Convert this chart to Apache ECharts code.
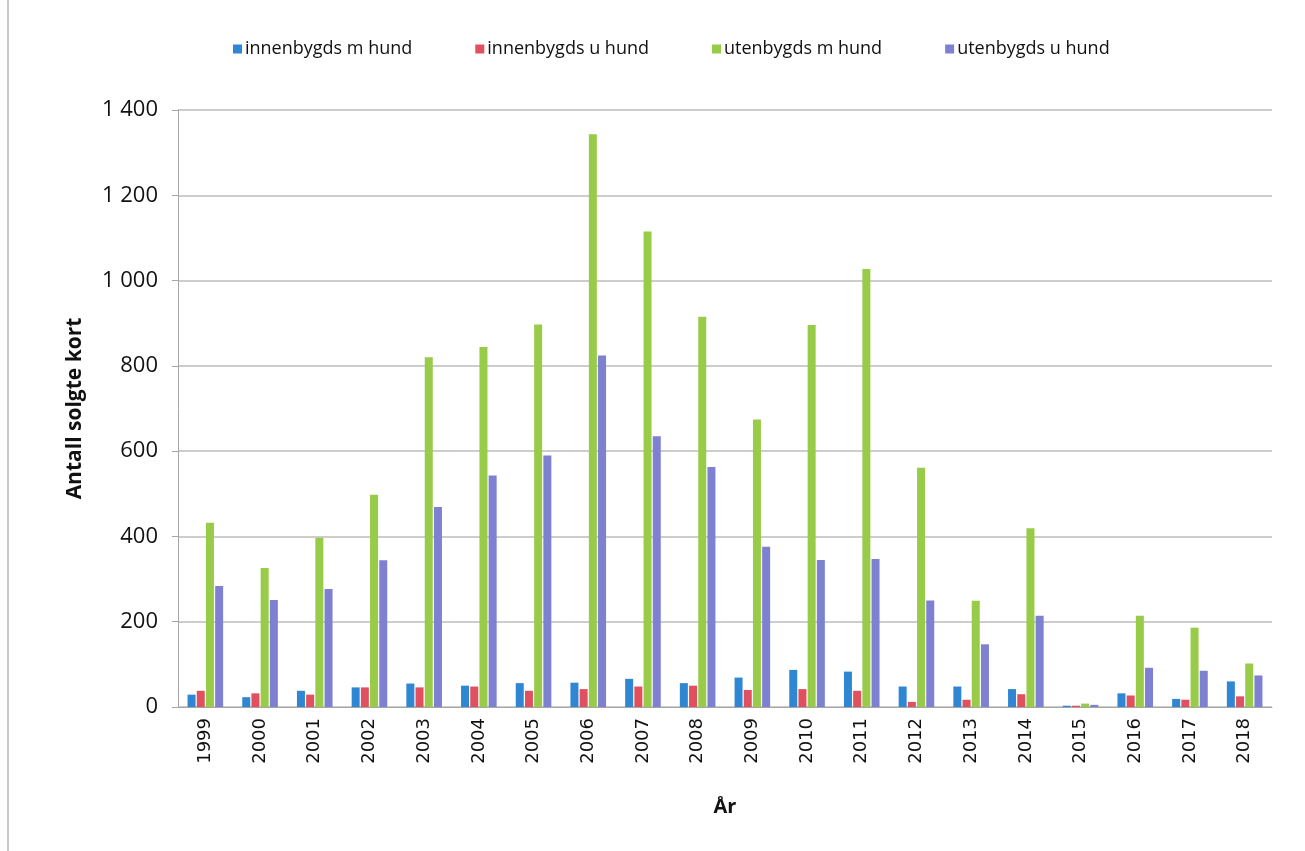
<!DOCTYPE html>
<html>
<head>
<meta charset="utf-8">
<script src="https://cdn.jsdelivr.net/npm/echarts@6/dist/echarts.min.js"></script>
<style>
html,body{margin:0;padding:0;background:#fff;}
#c{width:1305px;height:851px;}
</style>
</head>
<body>
<div id="c"></div>
<script>
const years = ['1999','2000','2001','2002','2003','2004','2005','2006','2007','2008','2009','2010','2011','2012','2013','2014','2015','2016','2017','2018'];
const innenMHund = [29, 23, 38, 46, 55, 50, 56, 57, 66, 56, 69, 87, 83, 48, 48, 42, 3, 32, 19, 60];
const innenUHund = [38, 32, 29, 46, 46, 48, 38, 42, 48, 50, 40, 42, 38, 12, 17, 30, 3, 27, 17, 25];
const utenMHund = [432, 326, 397, 498, 820, 844, 897, 1343, 1115, 915, 674, 896, 1027, 561, 249, 419, 8, 214, 186, 102];
const utenUHund = [284, 251, 277, 344, 469, 543, 590, 824, 635, 563, 376, 345, 347, 250, 147, 214, 5, 92, 85, 74];
const seriesNames = ['innenbygds m hund','innenbygds u hund','utenbygds m hund','utenbygds u hund'];
const colors = ['#2F86D2','#E0505E','#98CB48','#7E80D2'];

const chart = echarts.init(document.getElementById('c'));
const dataSets = [innenMHund, innenUHund, utenMHund, utenUHund];
chart.setOption({
  animation:false,
  color: colors,
  textStyle:{fontFamily:'Open Sans'},
  legend:{
    top:35, left:228, itemWidth:9, itemHeight:9, itemGap:63,
    icon:'rect',
    textStyle:{fontSize:18, color:'#111', fontFamily:'Open Sans', padding:[0,0,0,-2]},
    data: seriesNames
  },
  grid:{left:178, right:33, top:110, bottom:144},
  xAxis:{
    type:'category', data: years,
    name:'År', nameLocation:'middle', nameGap:90,
    nameTextStyle:{fontSize:20, fontWeight:'bold', color:'#111', fontFamily:'Open Sans'},
    axisLine:{lineStyle:{color:'#A6A6A6'}},
    axisTick:{show:false},
    axisLabel:{rotate:90, fontSize:18, color:'#111', fontFamily:'DejaVu Sans', margin:11},
    splitLine:{show:false}
  },
  yAxis:{
    type:'value', min:0, max:1400, interval:200,
    name:'Antall solgte kort', nameLocation:'middle', nameGap:92, nameRotate:90,
    nameTextStyle:{fontSize:21, fontWeight:'bold', color:'#111', fontFamily:'Open Sans'},
    axisLine:{show:true, lineStyle:{color:'#A6A6A6'}},
    axisTick:{show:true, length:6, lineStyle:{color:'#A6A6A6'}},
    axisLabel:{fontSize:22, color:'#111', margin:20, fontFamily:'Open Sans',
      formatter: v => String(v).replace(/\B(?=(\d{3})+(?!\d))/g,' ')},
    splitLine:{lineStyle:{color:'#BDBDBD', width:1.5}}
  },
  graphic:[{type:'line', shape:{x1:8,y1:0,x2:8,y2:851}, style:{stroke:'#C8C8C8', lineWidth:2}}],
  series: dataSets.map((d,i)=>({
    name: seriesNames[i], type:'bar', data:d,
    barWidth:8, barGap:'15%', barCategoryGap:'40%',
    itemStyle:{color:colors[i]}
  }))
});
</script>
</body>
</html>
